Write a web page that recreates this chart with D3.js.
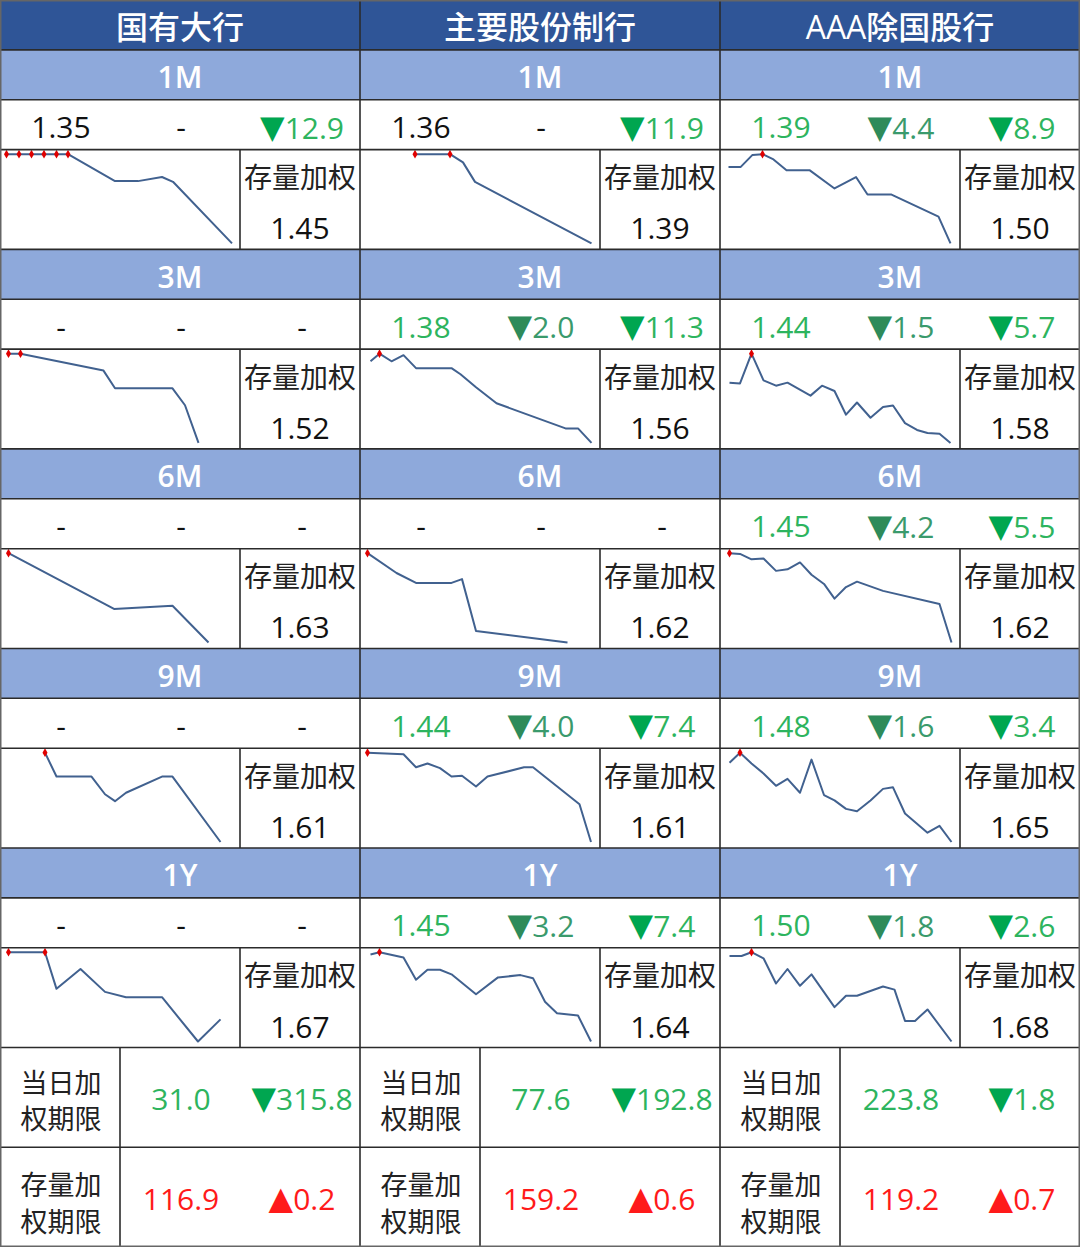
<!DOCTYPE html>
<html>
<head>
<meta charset="utf-8">
<script src="https://d3js.org/d3.v7.min.js"></script>
<style>
  body { margin: 0; background: #fff; }
  text { font-family: "Open Sans", "Noto Sans CJK SC", sans-serif; }
</style>
</head>
<body>
<div id="chart"></div>
<script>
// groups and tenors
const groups = ["国有大行", "主要股份制行", "AAA除国股行"];
const tenors = ["1M", "3M", "6M", "9M", "1Y"];

// latest issue rate, change vs last week (bp), change vs last month (bp); null = "-"
const latest = [
  [1.35, null, null, null, null],
  [1.36, 1.38, null, 1.44, 1.45],
  [1.39, 1.44, 1.45, 1.48, 1.50]
];
const chgWeek = [
  [null, null, null, null, null],
  [null, -2.0, null, -4.0, -3.2],
  [-4.4, -1.5, -4.2, -1.6, -1.8]
];
const chgMonth = [
  [-12.9, null, null, null, null],
  [-11.9, -11.3, null, -7.4, -7.4],
  [-8.9, -5.7, -5.5, -3.4, -2.6]
];
// 存量加权
const stockRate = [
  [1.45, 1.52, 1.63, 1.61, 1.67],
  [1.39, 1.56, 1.62, 1.61, 1.64],
  [1.50, 1.58, 1.62, 1.65, 1.68]
];

// bottom block: weighted term (days) and change
const dayTerm = [31.0, 77.6, 223.8];
const dayTermChg = [-315.8, -192.8, -1.8];
const stockTerm = [116.9, 159.2, 119.2];
const stockTermChg = [0.2, 0.6, 0.7];

// sparklines: t = day on a shared axis (0-46), v = rate (%)
const bigT = [
  [0.3, 2.8, 5.3, 7.8, 10.3, 12.6, 22, 26.6, 31.4, 33.6, 45.4],
  [0.7, 3.1, 19.7, 22, 33.5, 36, 38.7],
  [0.7, 21.8, 33.5, 40.7],
  [8, 10.3, 17.3, 20, 22, 24.2, 31.4, 33.5, 43.1],
  [0.7, 8, 10.3, 15.1, 20, 24.2, 31.4, 38.6, 43.1]
];
const bigV = [
  [1.479, 1.479, 1.479, 1.479, 1.479, 1.479, 1.440, 1.440, 1.446, 1.439, 1.350],
  [1.517, 1.517, 1.495, 1.472, 1.472, 1.450, 1.401],
  [1.619, 1.546, 1.550, 1.502],
  [1.619, 1.588, 1.588, 1.565, 1.556, 1.567, 1.588, 1.588, 1.503],
  [1.671, 1.671, 1.623, 1.649, 1.619, 1.612, 1.612, 1.554, 1.583]
];
const jointT = [
  [10, 17, 19.6, 22, 45.3],
  [1.1, 2.9, 5.3, 7.7, 10.2, 17.3, 19.1, 22.2, 26.3, 40.1, 42.6, 45.3],
  [0.5, 6.3, 10.2, 17.3, 19.4, 22.2, 40.5],
  [0.5, 7.7, 10.2, 12.5, 15, 17.3, 19.4, 22.2, 24.5, 31.8, 33.6, 42.9, 45.2],
  [1.1, 2.9, 7.7, 10.2, 12.5, 15, 17.3, 22.2, 26.6, 31.1, 33.6, 36, 38.4, 42.6, 45.2]
];
const jointV = [
  [1.479, 1.479, 1.468, 1.442, 1.360],
  [1.488, 1.498, 1.488, 1.496, 1.479, 1.479, 1.471, 1.454, 1.433, 1.400, 1.400, 1.381],
  [1.619, 1.593, 1.580, 1.580, 1.585, 1.517, 1.502],
  [1.559, 1.557, 1.540, 1.545, 1.539, 1.528, 1.529, 1.515, 1.528, 1.540, 1.540, 1.492, 1.443],
  [1.568, 1.571, 1.564, 1.535, 1.548, 1.548, 1.542, 1.516, 1.538, 1.541, 1.537, 1.506, 1.491, 1.488, 1.454]
];
const aaaT = [
  [0.7, 3.1, 5.5, 7.5, 9.7, 12.3, 16.9, 21.9, 26.2, 28.5, 33.3, 42.7, 45.1],
  [0.9, 3, 5.3, 7.7, 10.2, 12.5, 17.1, 19.4, 21.9, 24.2, 26.4, 29.1, 31.6, 33.6, 36, 38.4, 40.5, 42.9, 45.1],
  [0.9, 3, 5.3, 7.7, 10.2, 12.5, 15, 17.3, 19.8, 21.9, 24.2, 26.4, 31.6, 42.9, 45.3],
  [0.9, 3, 5.3, 7.7, 10.2, 12.5, 15, 17.3, 19.8, 21.9, 24.2, 26.4, 29.1, 31.6, 33.6, 36, 40.5, 42.9, 45.3],
  [0.9, 3.3, 5.3, 7.7, 10.2, 12.5, 15, 17.3, 21.9, 24.2, 26.4, 31.6, 33.9, 36, 38, 40.5, 45.3]
];
const aaaV = [
  [1.490, 1.490, 1.506, 1.507, 1.500, 1.486, 1.486, 1.462, 1.477, 1.454, 1.454, 1.425, 1.390],
  [1.520, 1.519, 1.558, 1.523, 1.516, 1.520, 1.503, 1.516, 1.509, 1.478, 1.494, 1.474, 1.488, 1.490, 1.467, 1.458, 1.454, 1.453, 1.441],
  [1.568, 1.567, 1.560, 1.561, 1.545, 1.547, 1.556, 1.540, 1.528, 1.509, 1.524, 1.531, 1.519, 1.502, 1.452],
  [1.586, 1.599, 1.585, 1.572, 1.556, 1.565, 1.547, 1.590, 1.544, 1.537, 1.526, 1.523, 1.537, 1.552, 1.554, 1.520, 1.495, 1.504, 1.483],
  [1.616, 1.616, 1.621, 1.613, 1.580, 1.599, 1.577, 1.592, 1.549, 1.564, 1.564, 1.576, 1.572, 1.531, 1.531, 1.546, 1.504]
];
const sparkT = [bigT, jointT, aaaT];
const sparkV = [bigV, jointV, aaaV];

const width = 1080;
const height = 1247;
const rh = height / 25;      // one short row
const colW = width / 3;

const navy = "#2F5597";
const lightBlue = "#8EA9DB";
const green = "#2DB45E";
const greenDark = "#3A9A6C";
const triDark = "#2E8B5A";
const triGreen = "#00A650";
const red = "#FF1A1A";

const svg = d3.select("#chart")
  .append("svg")
  .attr("width", width)
  .attr("height", height);

const fmt2 = d3.format(".2f");
const fmt1 = d3.format(".1f");

// row tops
const tenorTop = i => rh + i * 4 * rh;
const bottomTop = 21 * rh;

// backgrounds
svg.append("rect").attr("x", 0).attr("y", 0).attr("width", width).attr("height", height).attr("fill", "#fff");
svg.append("rect").attr("x", 0).attr("y", 0).attr("width", width).attr("height", rh).attr("fill", navy);
tenors.forEach((t, i) => {
  svg.append("rect").attr("x", 0).attr("y", tenorTop(i)).attr("width", width).attr("height", rh).attr("fill", lightBlue);
});

// change cell: triangle + number
function changeText(g, x, y, val, kind) {
  if (val === null) {
    g.append("text").attr("x", x).attr("y", y).attr("text-anchor", "middle")
      .attr("dominant-baseline", "central").attr("font-size", 30).attr("fill", "#111").text("-");
    return;
  }
  const up = val > 0;
  const triFill = up ? red : (kind === "week" ? triDark : triGreen);
  const txtFill = up ? red : (kind === "week" ? greenDark : green);
  const txt = g.append("text").attr("x", x).attr("y", y).attr("text-anchor", "middle")
    .attr("dominant-baseline", "central").attr("font-size", 30);
  txt.append("tspan").attr("fill", triFill).attr("font-family", "DejaVu Sans").attr("font-size", 32)
    .text(up ? "▲" : "▼");
  txt.append("tspan").attr("fill", txtFill).text(fmt1(Math.abs(val)));
}

groups.forEach((name, c) => {
  const cx = c * colW;
  const g = svg.append("g");

  g.append("text")
    .attr("x", cx + colW / 2).attr("y", rh / 2 + 2)
    .attr("text-anchor", "middle").attr("dominant-baseline", "central")
    .attr("font-size", 32).attr("font-weight", 500).attr("fill", "#fff").text(name);

  tenors.forEach((tenor, i) => {
    const yl = tenorTop(i);
    const yv = yl + rh;
    const ys = yv + rh;

    g.append("text")
      .attr("x", cx + colW / 2).attr("y", yl + rh / 2 + 2)
      .attr("text-anchor", "middle").attr("dominant-baseline", "central")
      .attr("font-size", 30).attr("font-weight", 600).attr("fill", "#fff").text(tenor);

    // values row
    const lv = latest[c][i];
    g.append("text")
      .attr("x", cx + 61).attr("y", yv + rh / 2 + 2)
      .attr("text-anchor", "middle").attr("dominant-baseline", "central")
      .attr("font-size", 30)
      .attr("fill", lv === null ? "#111" : (chgWeek[c][i] === null ? "#111" : green))
      .text(lv === null ? "-" : fmt2(lv));
    changeText(g, cx + 181, yv + rh / 2 + 2, chgWeek[c][i], "week");
    changeText(g, cx + 302, yv + rh / 2 + 2, chgMonth[c][i], "month");

    // 存量加权
    g.append("text")
      .attr("x", cx + 300).attr("y", ys + rh * 0.55)
      .attr("text-anchor", "middle").attr("dominant-baseline", "central")
      .attr("font-size", 28).attr("fill", "#222").text("存量加权");
    g.append("text")
      .attr("x", cx + 300).attr("y", ys + rh * 1.57)
      .attr("text-anchor", "middle").attr("dominant-baseline", "central")
      .attr("font-size", 30).attr("fill", "#111").text(fmt2(stockRate[c][i]));

    // sparkline
    const ts = sparkT[c][i];
    const vs = sparkV[c][i];
    const pts = ts.map((t, k) => ({ t: t, v: vs[k] }));
    const x = d3.scaleLinear().domain([0, 46]).range([cx + 5, cx + 235]);
    const y = d3.scaleLinear().domain(d3.extent(vs)).range([ys + rh * 1.88, ys + rh * 0.09]);
    const line = d3.line().x(d => x(d.t)).y(d => y(d.v));
    g.append("path").datum(pts)
      .attr("d", line).attr("fill", "none")
      .attr("stroke", "#41618F").attr("stroke-width", 2)
      .attr("stroke-linejoin", "round");
    const vmax = d3.max(vs);
    g.selectAll(null).data(pts.filter(d => d.v === vmax)).enter()
      .append("path")
      .attr("d", d3.symbol().type(d3.symbolDiamond).size(22))
      .attr("transform", d => `translate(${x(d.t)},${y(d.v)})`)
      .attr("fill", "#E00000");
  });

  // bottom block
  const rows = [
    { top: bottomTop, l1: "当日加", l2: "权期限", val: dayTerm[c], chg: dayTermChg[c] },
    { top: bottomTop + 2 * rh, l1: "存量加", l2: "权期限", val: stockTerm[c], chg: stockTermChg[c] }
  ];
  rows.forEach((r, k) => {
    g.append("text").attr("x", cx + 61).attr("y", r.top + (k === 0 ? 35 : 37))
      .attr("text-anchor", "middle").attr("dominant-baseline", "central")
      .attr("font-size", 27).attr("fill", "#222").text(r.l1);
    g.append("text").attr("x", cx + 61).attr("y", r.top + (k === 0 ? 71 : 74))
      .attr("text-anchor", "middle").attr("dominant-baseline", "central")
      .attr("font-size", 27).attr("fill", "#222").text(r.l2);
    g.append("text").attr("x", cx + 181).attr("y", r.top + rh + 1)
      .attr("text-anchor", "middle").attr("dominant-baseline", "central")
      .attr("font-size", 30).attr("fill", r.chg > 0 ? red : green).text(fmt1(r.val));
    changeText(g, cx + 302, r.top + rh + 1, r.chg, "month");
  });
});

// grid lines
const gridColor = "#2b2b2b";
const hLines = [rh];
tenors.forEach((t, i) => {
  hLines.push(tenorTop(i) + rh, tenorTop(i) + 2 * rh, tenorTop(i) + 4 * rh);
});
hLines.push(bottomTop + 2 * rh);
svg.selectAll(".hl").data(hLines).enter().append("line")
  .attr("class", "hl")
  .attr("x1", 0).attr("x2", width)
  .attr("y1", d => d).attr("y2", d => d)
  .attr("stroke", gridColor).attr("stroke-width", 1.6);

svg.selectAll(".vl").data([colW, 2 * colW]).enter().append("line")
  .attr("class", "vl")
  .attr("x1", d => d).attr("x2", d => d)
  .attr("y1", 0).attr("y2", height)
  .attr("stroke", gridColor).attr("stroke-width", 1.6);

groups.forEach((g, c) => {
  tenors.forEach((t, i) => {
    const ys = tenorTop(i) + 2 * rh;
    svg.append("line")
      .attr("x1", c * colW + 240).attr("x2", c * colW + 240)
      .attr("y1", ys).attr("y2", ys + 2 * rh)
      .attr("stroke", gridColor).attr("stroke-width", 1.6);
  });
  svg.append("line")
    .attr("x1", c * colW + 120).attr("x2", c * colW + 120)
    .attr("y1", bottomTop).attr("y2", height)
    .attr("stroke", gridColor).attr("stroke-width", 1.6);
});

svg.append("rect")
  .attr("x", 0.75).attr("y", 0.75)
  .attr("width", width - 1.5).attr("height", height - 1.5)
  .attr("fill", "none").attr("stroke", "#666").attr("stroke-width", 1.5);
</script>
</body>
</html>
